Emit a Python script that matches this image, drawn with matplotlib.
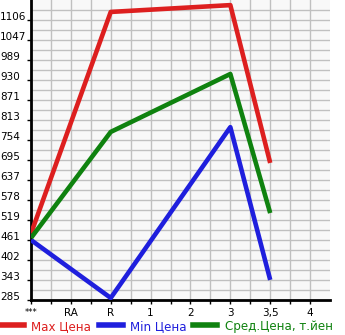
import numpy as np
import matplotlib
matplotlib.use('Agg')
import matplotlib.pyplot as plt
from matplotlib.lines import Line2D

# categories on x axis
x_labels = ['***', 'RA', 'R', '1', '2', '3', '3,5', '4']
# series: positions (index into x_labels) and values
pos = [0, 2, 5, 6]
max_price = [480, 1130, 1150, 687]
min_price = [461, 291, 792, 344]
avg_price = [467, 778, 948, 540]

y_min, y_step, n_steps = 285, 58.667, 15

fig = plt.figure(figsize=(3.45, 3.35), dpi=100)
ax = fig.add_axes([31 / 345, 35 / 335, 299 / 345, 300 / 335])
ax.set_facecolor('#f8f8f8')

lw = 3.3
ax.plot(pos, max_price, color='#dd1f1f', lw=lw, solid_capstyle='butt', zorder=3)
ax.plot(pos, min_price, color='#1f1fdd', lw=lw, solid_capstyle='butt', zorder=3)
ax.plot(pos, avg_price, color='#0f820f', lw=lw, solid_capstyle='butt', zorder=3)

ax.set_xlim(0, 7.5)
ax.set_ylim(y_min, y_min + y_step * n_steps)

yt = [y_min + y_step * i for i in range(n_steps)]
ax.set_yticks(yt)
ax.set_yticklabels([str(int(v)) for v in yt])
ax.set_xticks(range(len(x_labels)))
ax.set_xticklabels(x_labels)
ax.set_xticks(np.arange(0.5, 7.5, 1), minor=True)
ax.set_yticks([y_min + y_step * (i + 0.5) for i in range(n_steps)], minor=True)

ax.grid(True, which='both', color='#c0c0c0', lw=1)
ax.set_axisbelow(True)
ax.yaxis.set_tick_params(which='minor', length=0)
ax.tick_params(axis='y', which='major', length=3, width=1, labelsize=7.5, pad=19.3)
for t in ax.get_yticklabels():
    t.set_horizontalalignment('left')
    t.set_verticalalignment('baseline')
ax.tick_params(axis='x', which='both', length=3, width=1, labelsize=7.5, pad=3)
ax.get_xticklabels()[0].set_fontsize(6)

for s in ['top', 'right']:
    ax.spines[s].set_visible(False)
ax.spines['left'].set_linewidth(2)
ax.spines['bottom'].set_linewidth(2)

handles = [Line2D([], [], color='#dd1f1f', lw=4),
           Line2D([], [], color='#1f1fdd', lw=4),
           Line2D([], [], color='#0f820f', lw=4)]
names = ['Max Цена', 'Min Цена', 'Сред.Цена, т.йен']
leg = fig.legend(handles, names, loc='lower left', bbox_to_anchor=(-0.03, -0.025),
                 ncol=3, frameon=False, fontsize=8.6, handlelength=2.0,
                 handletextpad=0.6, columnspacing=0.6)
for txt, c in zip(leg.get_texts(), ['#dd1f1f', '#1f1fdd', '#0f820f']):
    txt.set_color(c)

plt.savefig('out.png', dpi=100)
